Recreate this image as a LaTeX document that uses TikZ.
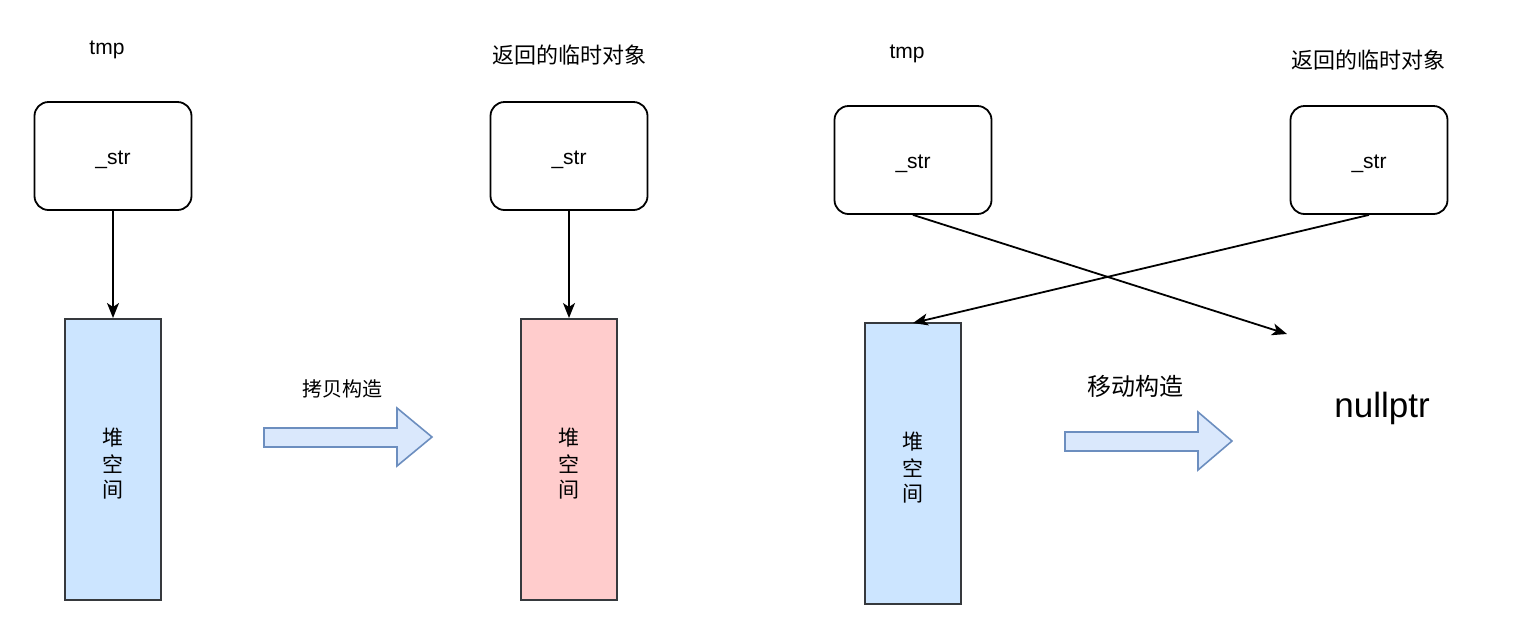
\documentclass[tikz,border=0pt]{standalone}
\usepackage{fontspec}
\setmainfont{Liberation Sans}
\newfontfamily\cjk{Noto Sans CJK SC}
\usetikzlibrary{arrows.meta}
\definecolor{heapblue}{HTML}{CCE5FF}
\definecolor{heappink}{HTML}{FFCCCC}
\definecolor{edgegray}{HTML}{36393D}
\definecolor{arrowfill}{HTML}{DAE8FC}
\definecolor{arrowdraw}{HTML}{6C8EBF}
\newcommand{\lowered}[1]{\raisebox{-4pt}[\height][\depth]{#1}}
\tikzset{
  strbox/.style={draw=black, line width=1.8pt, rounded corners=14pt, minimum width=157pt, minimum height=108pt, inner sep=0pt, font=\fontsize{21}{24}\selectfont},
  heap/.style={draw=edgegray, line width=2pt, minimum width=96pt, minimum height=281pt, inner sep=0pt, align=center, font=\cjk\fontsize{21}{26}\selectfont},
  lbl/.style={inner sep=0pt, font=\fontsize{21}{24}\selectfont},
  cjklbl/.style={inner sep=0pt, font=\cjk\fontsize{20}{24}\selectfont},
  ptr/.style={line width=1.8pt, -{Stealth[length=15pt,width=12pt,inset=4pt]}},
  bigarrowline/.style={draw=arrowdraw, fill=arrowfill, line width=1.6pt},
}
\begin{document}
\begin{tikzpicture}[x=1pt,y=-1pt]
\useasboundingbox (0,0) rectangle (1534,622);
% left part
\node[lbl] (tmpA) at (107,50) {tmp};
\node[strbox] (boxA) at (113,156) {\lowered{\_str}};
\node[heap, fill=heapblue] (heapA) at (113,459.5) {\lowered{\shortstack{堆\\[4pt]空\\[4pt]间}}};
\draw[ptr] (boxA.south) -- (heapA.north);
% copy arrow
\node[cjklbl] (copylbl) at (342,389) {拷贝构造};
\draw[bigarrowline] (264,428) -- (397,428) -- (397,408) -- (432,437) -- (397,466) -- (397,447) -- (264,447) -- cycle;
% middle part
\node[cjklbl, font=\cjk\fontsize{22}{24}\selectfont] (retA) at (569,55) {返回的临时对象};
\node[strbox] (boxB) at (569,156) {\lowered{\_str}};
\node[heap, fill=heappink] (heapB) at (569,459.5) {\lowered{\shortstack{堆\\[4pt]空\\[4pt]间}}};
\draw[ptr] (boxB.south) -- (heapB.north);
% right part
\node[lbl] (tmpB) at (907,54) {tmp};
\node[strbox] (boxC) at (913,160) {\lowered{\_str}};
\node[cjklbl, font=\cjk\fontsize{22}{24}\selectfont] (retB) at (1368,60) {返回的临时对象};
\node[strbox] (boxD) at (1369,160) {\lowered{\_str}};
\node[heap, fill=heapblue] (heapC) at (913,463.5) {\lowered{\shortstack{堆\\[4pt]空\\[4pt]间}}};
\node[inner sep=0pt, font=\fontsize{35}{40}\selectfont] (null) at (1382,408) {nullptr};
\coordinate (nullend) at (1287,334);
\coordinate (heapCtop) at (913,323);
\draw[ptr] (boxC.south) -- (nullend);
\draw[ptr] (boxD.south) -- (heapCtop);
% move arrow
\node[cjklbl, font=\cjk\fontsize{24}{26}\selectfont] (movelbl) at (1135,386) {移动构造};
\draw[bigarrowline] (1065,432) -- (1198,432) -- (1198,412) -- (1232,441) -- (1198,470) -- (1198,451) -- (1065,451) -- cycle;
\end{tikzpicture}
\end{document}
